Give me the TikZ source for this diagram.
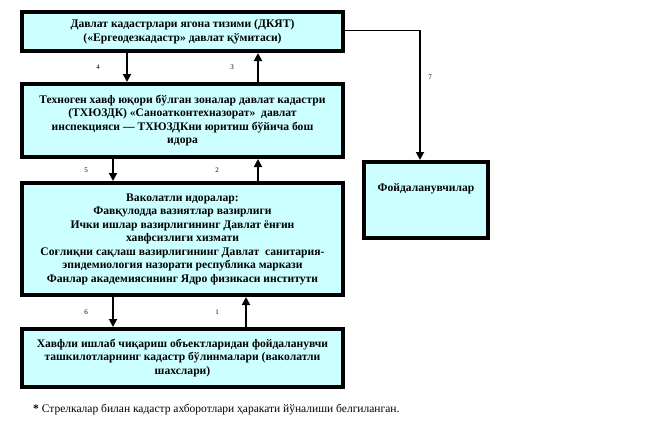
\documentclass[tikz,border=0pt]{standalone}
\usepackage{fontspec}
\setmainfont{Liberation Serif}
\usetikzlibrary{arrows.meta,positioning}
\definecolor{boxfill}{RGB}{204,255,255}

\begin{document}
\begin{tikzpicture}[x=1pt,y=-1pt,
                   box/.style={draw=black,fill=boxfill,line width=4pt,align=center,
                     font=\fontsize{11.6}{13.5}\selectfont\bfseries,inner sep=2pt},
                   flow/.style={line width=1.8pt,-{Triangle[width=8pt,length=8pt]}},
                   num/.style={font=\fontsize{7}{8}\selectfont,inner sep=1pt}]
\useasboundingbox (0,0) rectangle (645,442);
\node[box,minimum width=321pt,minimum height=39pt] (dkyat) at (182.5,31.5)
  {Давлат кадастрлари ягона тизими (ДКЯТ)\\(«Ергеодезкадастр» давлат қўмитаси)};
\node[box,minimum width=321pt,minimum height=73pt] (bosh) at (182.5,120.5)
  {Техноген хавф юқори бўлган зоналар давлат кадастри\\(ТХЮЗДК) «Саноатконтехназорат»\ \ давлат\\
   инспекцияси — ТХЮЗДКни юритиш бўйича бош\\идора};
\node[box,minimum width=321pt,minimum height=112pt] (vakolat) at (182.5,239)
  {Ваколатли идоралар:\\Фавқулодда вазиятлар вазирлиги\\Ички ишлар вазирлигининг Давлат ёнғин\\
   хавфсизлиги хизмати\\Соғлиқни сақлаш вазирлигининг Давлат\ \ санитария-\\
   эпидемиология назорати республика маркази\\Фанлар академиясининг Ядро физикаси институти};
\node[box,minimum width=321pt,minimum height=58pt] (bulinma) at (182.5,358)
  {Хавфли ишлаб чиқариш объектларидан фойдаланувчи\\ташкилотларнинг кадастр бўлинмалари (ваколатли\\шахслари)};
\node[box,minimum width=124pt,minimum height=76pt] (foyda) at (426,200)
  {Фойдаланувчилар\\[12pt]};

% arrows between boxes
\draw[flow] ([xshift=-55.5pt]dkyat.south) -- ([xshift=-55.5pt]bosh.north)
  node[num,midway,xshift=-29pt] {4};
\draw[flow] ([xshift=75.5pt]bosh.north) -- ([xshift=75.5pt]dkyat.south)
  node[num,midway,xshift=-26pt] {3};
\draw[flow] ([xshift=-69.5pt]bosh.south) -- ([xshift=-69.5pt]vakolat.north)
  node[num,midway,xshift=-27pt] {5};
\draw[flow] ([xshift=75.5pt]vakolat.north) -- ([xshift=75.5pt]bosh.south)
  node[num,midway,xshift=-41pt] {2};
\draw[flow] ([xshift=-69.5pt]vakolat.south) -- ([xshift=-69.5pt]bulinma.north)
  node[num,midway,xshift=-27pt] {6};
\draw[flow] ([xshift=63.5pt]bulinma.north) -- ([xshift=63.5pt]vakolat.south)
  node[num,midway,xshift=-29pt] {1};

% to users
\coordinate (kunj) at (420,30);
\draw[line width=0.8pt] (dkyat.east |- kunj) -- (kunj);
\draw[flow] (kunj) -- (kunj |- foyda.north) node[num,pos=0.36,xshift=10pt] {7};

\node[anchor=west,font=\fontsize{11.5}{13}\selectfont,inner sep=0pt] (izoh) at (33,410)
  {\textbf{*} Стрелкалар билан кадастр ахборотлари ҳаракати йўналиши белгиланган.};
\end{tikzpicture}
\end{document}
